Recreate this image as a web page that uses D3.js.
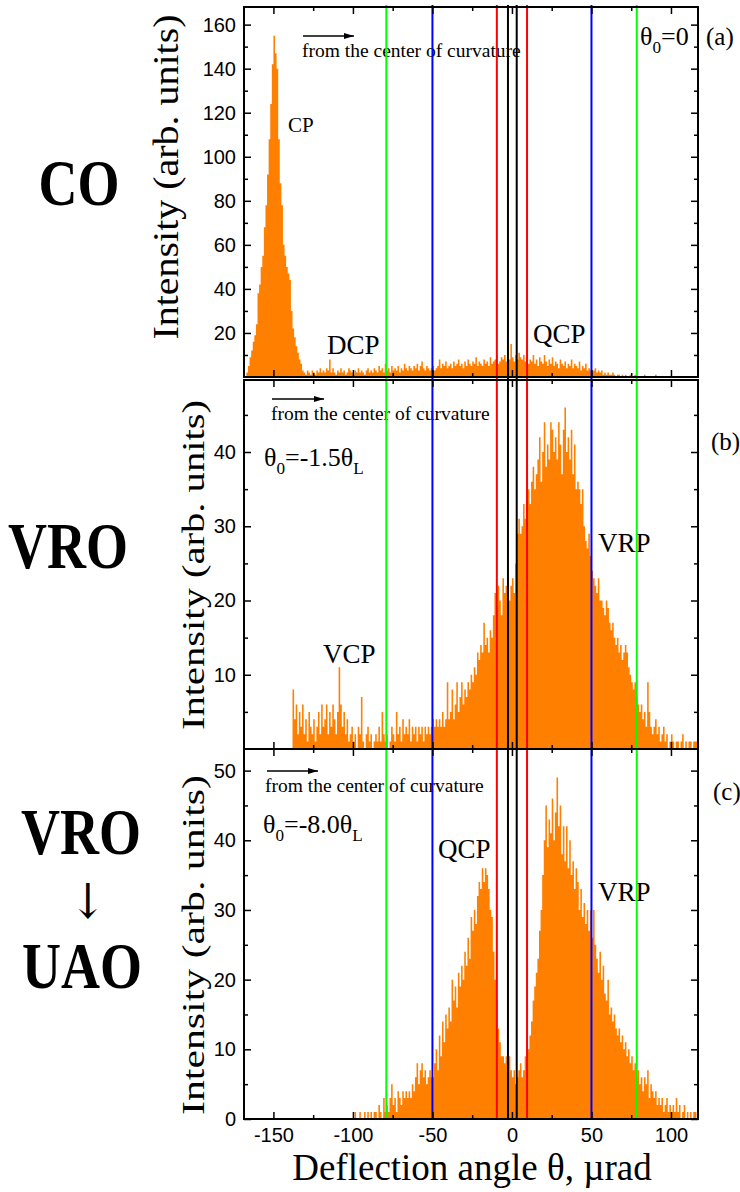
<!DOCTYPE html>
<html>
<head>
<meta charset="utf-8">
<script src="https://cdn.jsdelivr.net/npm/d3@7/dist/d3.min.js"></script>
<style>
  html, body { margin: 0; padding: 0; background: #fff; }
  svg text { font-family: "Liberation Serif", "Times New Roman", serif; }
  .tick text { font-family: "Liberation Sans", Arial, sans-serif; font-size: 20px; fill: #000; }
</style>
</head>
<body>
<svg id="chart" width="740" height="1192"></svg>
<script>
// Deflection-angle histograms, 1 µrad bins. Each series starts at its *Start angle.
const binWidth = 1;

// (a) channeling orientation, theta0 = 0
const coStart = -167;
const coCounts = [
  2,5,9,12,16,19,24,38,42,50,
  55,68,78,92,108,124,142,155,147,140,
  108,88,78,60,55,50,47,44,30,22,
  18,14,11,8,6,3,2,1,3,2,
  1,3,2,1,3,2,4,2,3,2,
  4,3,8,2,4,2,1,3,2,4,
  2,3,1,2,4,3,2,1,3,2,
  4,2,3,2,1,3,4,2,3,2,
  4,3,2,5,3,4,2,6,3,4,
  2,5,3,4,3,5,2,4,3,6,
  4,3,5,4,3,5,4,6,3,5,
  7,4,3,5,4,3,4,5,3,4,
  5,8,4,6,5,7,4,5,6,4,
  7,5,6,8,5,6,4,7,5,8,
  6,5,7,6,9,5,7,6,5,8,
  6,7,5,9,6,7,8,10,6,7,
  9,8,10,7,9,8,15,9,7,10,
  8,11,9,8,10,7,9,6,8,7,
  10,6,8,5,9,7,6,10,7,5,
  8,6,9,5,7,6,4,8,6,5,
  7,4,6,5,8,4,6,5,4,7,
  3,5,4,6,3,4,3,2,3,4,
  2,3,2,3,1,2,1,2,1,1,
  2,1,0,1,1,0,1,0,1,0,
  0,1,0,0,1,0,0,0,0,0,
  1,0,0,0,0,0,0,1
];

// (b) volume reflection orientation, theta0 = -1.5 thetaL
const vroStart = -138;
const vroCounts = [
  8,4,6,2,5,3,6,2,4,1,
  5,3,2,4,1,3,5,2,6,3,
  4,6,2,5,3,6,4,2,5,11,
  6,3,5,2,4,1,2,3,1,2,
  0,3,2,7,1,0,2,3,1,2,
  0,1,2,1,3,1,5,2,1,2,
  0,1,3,2,1,5,2,3,1,4,
  2,3,2,4,1,3,2,3,1,3,
  2,3,1,3,2,3,2,3,4,3,
  4,3,4,3,5,3,4,9,4,5,
  8,4,6,9,5,7,9,6,8,7,
  9,8,10,9,11,10,13,12,14,13,
  17,14,15,13,16,15,18,21,19,22,
  20,18,23,21,22,23,20,22,23,21,
  25,29,31,29,30,33,31,34,35,33,
  36,38,35,37,39,42,36,40,44,38,
  41,39,44,43,40,42,39,44,41,37,
  43,46,40,42,39,43,37,41,35,36,
  35,33,35,30,28,27,29,26,24,23,
  22,21,23,20,20,19,18,20,19,17,
  16,17,15,14,15,13,14,12,13,14,
  13,11,10,9,8,9,7,6,5,6,
  4,5,3,9,5,3,2,3,4,2,
  3,1,2,3,1,2,0,1,2,1,
  0,1,1,0,1,2,0,1,0,1,
  1,0,1,1,1
];

// (c) transition VRO -> UAO, theta0 = -8.0 thetaL
const uaoStart = -100;
const uaoCounts = [
  0,1,0,0,1,0,0,1,0,1,
  0,1,0,1,1,0,2,1,0,3,
  1,2,1,3,5,2,3,1,4,3,
  2,4,3,4,3,4,3,5,4,6,
  8,5,7,8,6,7,5,6,7,6,
  6,8,10,7,12,9,14,11,15,13,
  16,14,20,17,19,16,21,19,22,20,
  24,22,26,23,29,27,30,28,32,34,
  33,36,34,36,35,33,30,29,24,20,
  17,13,11,9,9,8,9,8,9,7,
  6,7,5,6,7,8,6,7,9,8,
  10,12,14,17,19,21,23,27,30,35,
  40,45,39,43,41,46,40,44,49,42,
  45,38,42,37,42,36,40,35,37,33,
  36,34,30,33,29,31,28,30,27,30,
  26,30,25,23,21,24,20,22,18,17,
  20,15,16,14,15,13,12,13,11,12,
  10,11,9,10,8,9,7,8,6,7,
  5,6,4,6,5,7,3,5,4,3,
  4,2,3,2,3,1,2,3,1,2,
  1,2,1,3,1,2,0,1,2,0,
  1,0,1,0,1,1,0
];

// Angular acceptance windows (µrad), outermost first
const cutWindows = [[-79, 78.5], [-50, 50], [-9.5, 9.5], [-2.5, 3]];
const cutColors = ["#00ff00", "#0000ff", "#ff0000", "#000000"];

const xTickLabels = [-150, -100, -50, 0, 50, 100];
const xMinorTicks = [-125, -75, -25, 25, 75];
const coTickLabels = [20, 40, 60, 80, 100, 120, 140, 160];
const vroTickLabels = [10, 20, 30, 40];
const uaoTickLabels = [0, 10, 20, 30, 40, 50];

const svg = d3.select("#chart");
const left = 244, right = 698;
const x = d3.scaleLinear().domain([-168.5, 117]).range([left, right]);

const panels = [
  { counts: coCounts,  start: coStart,  top: 7,   bottom: 377,  yMax: 168,  labels: coTickLabels,  minorStep: 10 },
  { counts: vroCounts, start: vroStart, top: 380, bottom: 749,  yMax: 49.7, labels: vroTickLabels, minorStep: 5 },
  { counts: uaoCounts, start: uaoStart, top: 749, bottom: 1119, yMax: 53.1, labels: uaoTickLabels, minorStep: 5 }
];

const defs = svg.append("defs");
defs.append("marker")
  .attr("id", "head").attr("viewBox", "0 0 10 6").attr("refX", 10).attr("refY", 3)
  .attr("markerWidth", 10).attr("markerHeight", 6).attr("markerUnits", "userSpaceOnUse")
  .attr("orient", "auto")
  .append("path").attr("d", "M0,0 L10,3 L0,6 Z").attr("fill", "#000");

// Histograms drawn as filled step outlines so adjacent bins join without seams
panels.forEach((p, i) => {
  p.y = d3.scaleLinear().domain([0, p.yMax]).range([p.bottom, p.top]);
  defs.append("clipPath").attr("id", "clip" + i)
    .append("rect").attr("x", left).attr("y", p.top).attr("width", right - left).attr("height", p.bottom - p.top);

  const steps = p.counts.map((c, k) => [p.start + k * binWidth, c]);
  steps.push([p.start + p.counts.length * binWidth, p.counts[p.counts.length - 1]]);
  const area = d3.area()
    .x(d => x(d[0]))
    .y0(p.y(0))
    .y1(d => p.y(d[1]))
    .curve(d3.curveStepAfter);
  svg.append("path").attr("clip-path", `url(#clip${i})`)
    .attr("d", area(steps)).attr("fill", "#ff8000");
});

// Descriptive texts inside the panels
function arrowNote(x1, x2, yArrow, tx, ty) {
  svg.append("line").attr("x1", x1).attr("x2", x2).attr("y1", yArrow).attr("y2", yArrow)
    .attr("stroke", "#000").attr("stroke-width", 1.6).attr("marker-end", "url(#head)");
  svg.append("text").attr("x", tx).attr("y", ty).attr("font-size", 19.5).text("from the center of curvature");
}
arrowNote(303, 354, 36, 302, 57);
arrowNote(272, 324, 399, 271, 420);
arrowNote(267, 318, 771, 265, 792);

function label(tx, ty, size, str) {
  return svg.append("text").attr("x", tx).attr("y", ty).attr("font-size", size).text(str);
}
// Text with subscripted pieces: parts are [string, isSubscript]
function thetaLabel(tx, ty, size, parts) {
  const t = svg.append("text").attr("x", tx).attr("y", ty).attr("font-size", size);
  let lowered = false;
  parts.forEach(([s, sub]) => {
    const span = t.append("tspan").text(s);
    if (sub) {
      span.attr("dy", lowered ? 0 : size * 0.32).attr("font-size", size * 0.66);
      lowered = true;
    } else {
      span.attr("dy", lowered ? -size * 0.32 : 0);
      lowered = false;
    }
  });
  return t;
}

label(288, 132, 21, "CP");
label(327, 354, 27, "DCP");
label(533, 343, 27, "QCP");
thetaLabel(640, 45, 26, [["θ"], ["0", true], ["=0"]]);
label(706, 45, 25, "(a)");

thetaLabel(264, 466, 26, [["θ"], ["0", true], ["=-1.5θ"], ["L", true]]);
label(711, 450, 25, "(b)");
label(598, 552, 27, "VRP");
label(323, 663, 27, "VCP");

thetaLabel(263, 833, 26, [["θ"], ["0", true], ["=-8.0θ"], ["L", true]]);
label(713, 800, 25, "(c)");
label(438, 858, 27, "QCP");
label(598, 901, 27, "VRP");

// Acceptance window boundaries across all three panels
cutWindows.forEach((w, i) => {
  w.forEach(a => {
    svg.append("line").attr("x1", x(a)).attr("x2", x(a)).attr("y1", 5).attr("y2", 1119)
      .attr("stroke", cutColors[i]).attr("stroke-width", 2);
  });
});

// Frames and ticks
panels.forEach((p, i) => {
  const minor = d3.range(p.minorStep, p.yMax, p.minorStep * 2);
  const gL = svg.append("g").attr("transform", `translate(${left},0)`)
    .call(d3.axisLeft(p.y).tickValues(p.labels).tickSize(-7).tickPadding(8));
  gL.select(".domain").remove();
  const gLm = svg.append("g").attr("transform", `translate(${left},0)`)
    .call(d3.axisLeft(p.y).tickValues(minor).tickSize(-4).tickFormat(""));
  gLm.select(".domain").remove();
  const gR = svg.append("g").attr("transform", `translate(${right},0)`)
    .call(d3.axisRight(p.y).tickValues(p.labels).tickSize(-7).tickFormat(""));
  gR.select(".domain").remove();
  const gRm = svg.append("g").attr("transform", `translate(${right},0)`)
    .call(d3.axisRight(p.y).tickValues(minor).tickSize(-4).tickFormat(""));
  gRm.select(".domain").remove();

  const gT = svg.append("g").attr("transform", `translate(0,${p.top})`)
    .call(d3.axisTop(x).tickValues(xTickLabels).tickSize(-7).tickFormat(""));
  gT.select(".domain").remove();
  const gTm = svg.append("g").attr("transform", `translate(0,${p.top})`)
    .call(d3.axisTop(x).tickValues(xMinorTicks).tickSize(-4).tickFormat(""));
  gTm.select(".domain").remove();
  const last = i === panels.length - 1;
  const gB = svg.append("g").attr("transform", `translate(0,${p.bottom})`)
    .call(d3.axisBottom(x).tickValues(xTickLabels).tickSize(-7).tickPadding(9)
      .tickFormat(last ? d3.format("d") : ""));
  gB.select(".domain").remove();
  const gBm = svg.append("g").attr("transform", `translate(0,${p.bottom})`)
    .call(d3.axisBottom(x).tickValues(xMinorTicks).tickSize(-4).tickFormat(""));
  gBm.select(".domain").remove();

  svg.selectAll(".tick line").attr("stroke", "#000").attr("stroke-width", 1.5);

  svg.append("rect").attr("x", left).attr("y", p.top).attr("width", right - left).attr("height", p.bottom - p.top)
    .attr("fill", "none").attr("stroke", "#000").attr("stroke-width", 2);
});
svg.selectAll(".tick text").text(function () { return this.textContent.replace("−", "-"); });

// Axis titles
const yTitles = [[178, 177, 35, 325], [204, 565, 31, 330], [204, 945, 31, 340]];
yTitles.forEach(([tx, ty, size, len]) => {
  svg.append("text").attr("transform", `translate(${tx},${ty}) rotate(-90)`)
    .attr("text-anchor", "middle").attr("font-size", size)
    .attr("textLength", len).attr("lengthAdjust", "spacingAndGlyphs")
    .text("Intensity (arb. units)");
});
svg.append("text").attr("x", 472).attr("y", 1180).attr("text-anchor", "middle")
  .attr("font-size", 37).text("Deflection angle θ, µrad");

// Orientation names on the left
function bigLabel(cx, by, str, size, family, weight, sy) {
  const t = svg.append("text").attr("transform", `translate(${cx},${by}) scale(1,${sy || 1.2})`)
    .attr("text-anchor", "middle").attr("font-size", size || 54)
    .attr("font-weight", weight || "bold").text(str);
  if (family) t.style("font-family", family);
  return t;
}
bigLabel(79, 205, "CO");
bigLabel(68, 568, "VRO");
bigLabel(81, 854, "VRO");
bigLabel(88, 918, "↓", 44, "'DejaVu Serif'", "normal", 1.1);
bigLabel(82, 988, "UAO");
</script>
</body>
</html>
